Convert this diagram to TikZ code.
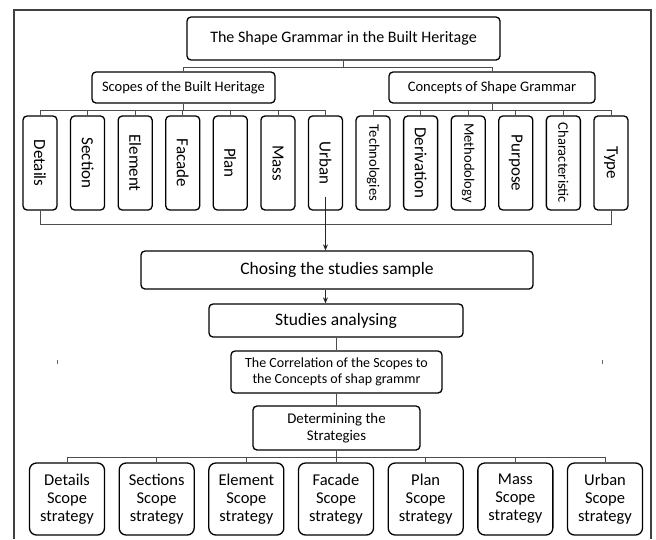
\documentclass[tikz,border=0pt]{standalone}
\usepackage{fontspec}
\setmainfont{Carlito}
\usepackage{graphicx}
\usetikzlibrary{arrows.meta}

\newcommand{\fsz}[2]{\fontsize{#1}{#2}\selectfont}

\tikzset{
    box/.style={draw, line width=1.3pt, rounded corners=4pt, inner sep=1pt, align=center},
    vbox/.style={box, minimum width=34pt, minimum height=94pt},
    sbox/.style={box, rounded corners=7pt, minimum width=75pt, minimum height=72pt, font=\fsz{16.5}{18}},
    link/.style={draw=black!70, line width=0.8pt},
    flow/.style={draw=black!85, line width=0.8pt, -{Stealth[length=6pt, width=5pt]}},
}

\begin{document}
\begin{tikzpicture}[x=1pt, y=-1pt]
    \useasboundingbox (0,0) rectangle (656,539);
    \draw[black!75, line width=1.2pt] (14,539) -- (14,10) -- (651,10) -- (651,539);

    \node[box, minimum width=313pt, minimum height=43pt, font=\fsz{16}{18}] (top) at (343.5,38.5)
        {The Shape Grammar in the Built Heritage};
    \node[box, minimum width=183pt, minimum height=31pt, font=\fsz{14.5}{16}] (scopes) at (183.5,87.5)
        {Scopes of the Built Heritage};
    \node[box, minimum width=206pt, minimum height=31pt, font=\fsz{14.5}{16}] (concepts) at (492,87.5)
        {Concepts of Shape Grammar};

    \foreach \lbl/\fs [count=\i from 0] in {%
        Details/17,
        Section/17,
        Element/17,
        Facade/17,
        Plan/17,
        Mass/17,
        Urban/17,
        Technologies/14.5,
        Derivation/17,
        Methodology/14.5,
        Purpose/17,
        Characteristic/14.5,
        Type/17%
        }{
        \node[vbox, font=\fsz{\fs}{18}] (v\i) at (40+47.58*\i, 163) {\rotatebox{-90}{\lbl}};
    }

    \draw[link] (top.south) -- ++(0,7) -| (scopes.north);
    \draw[link] (top.south) -- ++(0,7) -| (concepts.north);
    \foreach \i in {0,...,6}{
        \draw[link] (scopes.south) -- ++(0,7) -| (v\i.north);
    }
    \foreach \i in {7,...,12}{
        \draw[link] (concepts.south) -- ++(0,7) -| (v\i.north);
    }
    \draw[link] (v0.south) -- ++(0,14) -| (v12.south);
    \coordinate (merge) at ([yshift=14pt]v6.south);

    \node[box, minimum width=392pt, minimum height=38pt, font=\fsz{17.5}{20}] (choose) at (337,270)
        {Chosing the studies sample};
    \node[box, minimum width=254pt, minimum height=33pt, font=\fsz{17.5}{20}] (studies) at (336,320.5)
        {Studies analysing};
    \node[box, minimum width=211pt, minimum height=42pt, font=\fsz{14}{16}] (corr) at (336.5,372)
        {The Correlation of the Scopes to\\the Concepts of shap grammr};
    \node[box, minimum width=167pt, minimum height=44pt, font=\fsz{14.8}{17}] (strat) at (336.5,428)
        {Determining the\\Strategies};

    \draw[flow] (merge) -- (choose.north -| merge);
    \draw[flow] (choose.south -| merge) -- (studies.north -| merge);
    \draw[link] (studies.south -| corr.north) -- (corr.north);
    \draw[link] (corr.south) -- (strat.north);

    \foreach \lbl [count=\i from 0] in {Details,Sections,Element,Facade,Plan,Mass,Urban}{
        \node[sbox] (s\i) at (67+89.67*\i, 499) {\lbl\\Scope\\strategy};
        \draw[link] (strat.south) -- ++(0,7) -| (s\i.north);
    }

    % stray marks
    \draw[black!60, line width=1pt] (57,360) -- (57,364);
    \draw[black!60, line width=1pt] (602,360) -- (602,364);
\end{tikzpicture}
\end{document}
